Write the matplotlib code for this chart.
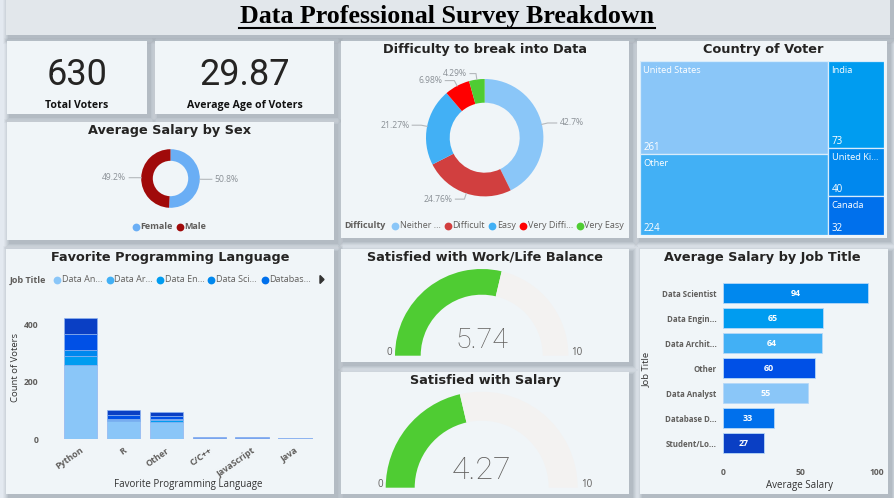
import matplotlib
matplotlib.use("Agg")
import matplotlib.pyplot as plt
from matplotlib.patches import Rectangle
import numpy as np

W, H = 894, 498
PAGE = "#e3e9f0"; CARD = "#f0f5f8"; SHADOW = "#5c6670"; INK = "#252423"; GREY = "#605e5c"; LBL = "#8a9096"
SANS = ["Open Sans", "DejaVu Sans"]; HEAD = "DejaVu Sans"

title = "Data Professional Survey Breakdown"
total_voters = "630"; avg_age = "29.87"
sex_labels = ["Female", "Male"]; sex_values = [50.8, 49.2]; sex_colors = ["#6aaef5", "#a00a0a"]
diff_labels = ["Neither ...", "Difficult", "Easy", "Very Diffi...", "Very Easy"]
diff_values = [42.7, 24.76, 21.27, 6.98, 4.29]
diff_colors = ["#8ac6f8", "#d13f3f", "#42b0f5", "#ff0000", "#4fcc33"]
country_labels = ["United States", "Other", "India", "United Ki...", "Canada"]
country_values = [261, 224, 73, 40, 32]
country_colors = ["#8ac6f8", "#42b0f5", "#009cf0", "#0088ee", "#0070ec"]
languages = ["Python", "R", "Other", "C/C++", "JavaScript", "Java"]
job_legend = ["Data An...", "Data Ar...", "Data En...", "Data Sci...", "Databas..."]
job_legend_colors = ["#8ac6f8", "#42b0f5", "#009cf0", "#0088ee", "#0070ec"]
stack_colors = ["#8ac6f8", "#009cf0", "#0088ee", "#0050e6", "#0a3fc4"]
stack_data_analyst = [257, 62, 60, 3, 3, 4]
stack_engineer = [30, 3, 5, 1, 1, 0]
stack_scientist = [21, 3, 5, 1, 1, 0]
stack_other = [56, 14, 11, 2, 2, 0]
stack_student = [56, 19, 14, 1, 1, 0]
work_value = 5.74; salary_value = 4.27; gauge_max = 10
job_titles = ["Data Scientist", "Data Engin...", "Data Archit...", "Other", "Data Analyst", "Database D...", "Student/Lo..."]
job_salary = [94, 65, 64, 60, 55, 33, 27]
job_colors = ["#0088ee", "#009cf0", "#42b0f5", "#0050e6", "#8ac6f8", "#0070ec", "#0a3fc4"]

fig = plt.figure(figsize=(W/100, H/100), dpi=100, facecolor=PAGE)

def axpx(x0, y0, x1, y1, z=2):
    return fig.add_axes([x0/W, 1-y1/H, (x1-x0)/W, (y1-y0)/H], zorder=z)

bg = axpx(0, 0, W, H, 0); bg.set_xlim(0, W); bg.set_ylim(H, 0); bg.axis("off")
top = axpx(0, 0, W, H, 10); top.set_xlim(0, W); top.set_ylim(H, 0); top.axis("off"); top.patch.set_alpha(0)

def card(x0, y0, x1, y1):
    for d, a in [(6, .04), (5, .05), (4, .06), (3, .07), (2, .08), (1, .09)]:
        bg.add_patch(Rectangle((x0-d+3, y0-d+3), x1-x0+2*d, y1-y0+2*d, fc=SHADOW, ec="none", alpha=a))

panels = [(7,41,147,114),(155,41,334,114),(7,122,334,240),(341,41,629,238),(637,41,887,238),
          (6,249,334,494),(341,249,629,362),(341,372,629,494),(640,249,888,494)]
card(6, -5, 890, 35)
for p in panels: card(*p)
bg.add_patch(Rectangle((6, -5), 884, 40, fc="#e2e7eb", ec="none"))
for (x0, y0, x1, y1) in panels:
    bg.add_patch(Rectangle((x0, y0), x1-x0, y1-y0, fc=CARD, ec="none"))

top.text(447, 16, title, ha="center", va="center", family="Liberation Serif", weight="bold", size=18.7, color="black")
top.plot([239, 655], [27.5, 27.5], color="black", lw=1.5)

def head(cx, y, s):
    top.text(cx, y, s, ha="center", va="center", family=HEAD, weight="bold", size=9.25, color=INK)
head(170, 130, "Average Salary by Sex"); head(485, 49, "Difficulty to break into Data"); head(763, 49, "Country of Voter")
head(170, 257, "Favorite Programming Language"); head(485, 257, "Satisfied with Work/Life Balance")
head(485, 380, "Satisfied with Salary"); head(762, 257, "Average Salary by Job Title")

top.text(77, 75, total_voters, ha="center", va="center", family="Roboto", size=26, color=INK)
top.text(244.5, 75, avg_age, ha="center", va="center", family="Roboto", size=26, color=INK)
top.text(77, 105, "Total Voters", ha="center", va="center", family=SANS, size=7.6, weight="bold", color="#111111")
top.text(244.5, 105, "Average Age of Voters", ha="center", va="center", family=SANS, size=7.6, weight="bold", color="#111111")

def donut(cx, cy, R, r, values, colors, radial, hlens):
    a = axpx(cx-R, cy-R, cx+R, cy+R)
    a.pie(values, colors=colors, startangle=90, counterclock=False, radius=1,
          wedgeprops=dict(width=1-r/R, edgecolor="none"))
    a.set_xlim(-1, 1); a.set_ylim(-1, 1)
    cum = 0; tot = sum(values)
    for v, hl in zip(values, hlens):
        th = np.radians((cum + v/2)/tot*360); cum += v
        sx, cy_ = np.sin(th), np.cos(th); s = 1 if sx >= 0 else -1
        p0 = (cx+R*sx, cy-R*cy_); p1 = (cx+(R+radial)*sx, cy-(R+radial)*cy_); p2 = (p1[0]+s*hl, p1[1])
        top.plot([p0[0], p1[0], p2[0]], [p0[1], p1[1], p2[1]], color="#b4b8bc", lw=.8)
        top.text(p2[0]+s*3, p2[1], f"{v:g}%", ha="left" if s > 0 else "right", va="center", family=SANS, size=6.2, color=LBL)

donut(170.5, 178.5, 29.3, 17.7, sex_values, sex_colors, 3, [9, 9])
donut(484.7, 137.7, 58.7, 35, diff_values, diff_colors, 6, [9, 9, 9, 9, 6])

def legend(items, colors, xs, y, fs=6.5):
    for lab, c, x in zip(items, colors, xs):
        top.plot(x, y, "o", ms=5.6, color=c, mec="none")
        top.text(x+5, y, lab, ha="left", va="center", family=SANS, size=fs, color=GREY)

legend(sex_labels, sex_colors, [135.5, 179.5], 226.5)
for t in top.texts[-2:]: t.set_weight("bold")
top.text(344.5, 225.5, "Difficulty", ha="left", va="center", family=SANS, size=6.5, weight="bold", color=GREY)
legend(diff_labels, diff_colors, [395, 447.5, 492, 523, 579.5], 225.5)
top.text(9.5, 280, "Job Title", ha="left", va="center", family=SANS, size=6.5, weight="bold", color=GREY)
legend(job_legend, job_legend_colors, [56.5, 109.5, 160, 211, 264.5], 279.5)
top.fill([320, 320, 324], [275.5, 283.5, 279.5], color="#333333")

# treemap
tx0, tx1, ty0, ty1 = 639.7, 884.3, 60.7, 234.7
tm = axpx(tx0, ty0, tx1, ty1); tm.axis("off"); tm.set_xlim(0, 1); tm.set_ylim(1, 0)
total = sum(country_values)
left = sum(country_values[:2]); lw_ = left/total
rects = []
y = 0
for v in country_values[:2]:
    h = v/left; rects.append((0, y, lw_, h)); y += h
y = 0
for v in country_values[2:]:
    h = v/(total-left); rects.append((lw_, y, 1-lw_, h)); y += h
for (x, y, w, h), c, lab, v in zip(rects, country_colors, country_labels, country_values):
    tm.add_patch(Rectangle((x, y), w, h, fc=c, ec="#d8ecfb", lw=.9))
    px = tx0 + x*(tx1-tx0) + 3.5; pt = ty0 + y*(ty1-ty0); pb = pt + h*(ty1-ty0)
    top.text(px, pt+9.5, lab, ha="left", va="center", family=SANS, size=6.7, color="white")
    top.text(px, pb-6.5, str(v), ha="left", va="center", family=SANS, size=7, color="white")

# stacked bars
bx = axpx(55, 300, 318, 439)
pos = np.arange(len(languages))
bottom = np.zeros(len(languages))
for vals, c in zip([stack_data_analyst, stack_engineer, stack_scientist, stack_other, stack_student], stack_colors):
    bx.bar(pos, vals, bottom=bottom, width=.78, color=c, edgecolor="#8fb4f0", linewidth=.5)
    bottom += np.array(vals)
bx.set_xlim(-0.59, 5.53); bx.set_ylim(0, 139/115*400)
bx.set_facecolor("none")
for s in bx.spines.values(): s.set_visible(False)
bx.set_yticks([0, 200, 400])
bx.tick_params(length=0)
bx.set_yticklabels(["0", "200", "400"], family=SANS, size=6.2, weight="bold", color=GREY)
bx.tick_params(axis="y", pad=12)
bx.set_xticks(pos)
bx.set_xticklabels(languages, rotation=35, ha="right", rotation_mode="anchor", family=SANS, size=6.4, weight="bold", color=GREY)
bx.tick_params(axis="x", pad=5)
top.text(188, 484.5, "Favorite Programming Language", ha="center", va="center", family=SANS, size=7, color="#333333")
top.text(16, 367, "Count of Voters", ha="center", va="center", rotation=90, family=SANS, size=6.8, color="#333333")

# gauges
def gauge(cx, by, R, r, value, vmax, txt_y, lab_y, fs):
    a = axpx(cx-R, by-R, cx+R, by+R)
    a.pie([value, vmax-value, vmax], colors=["#4fcc33", "#f3f2f1", "none"], startangle=180, counterclock=False,
          radius=1, wedgeprops=dict(width=1-r/R, edgecolor="none"))
    a.set_xlim(-1, 1); a.set_ylim(-1, 1)
    top.text(cx, txt_y, f"{value:g}", ha="center", va="center", family="Roboto", weight="light", size=fs, color=GREY)
    top.text(cx-R-3, lab_y, "0", ha="right", va="center", family=SANS, size=7, color=GREY)
    top.text(cx+R+3, lab_y, str(vmax), ha="left", va="center", family=SANS, size=7, color=GREY)

gauge(481.7, 355.7, 86.7, 61, work_value, gauge_max, 340, 352, 20.5)
gauge(481.7, 487.7, 96, 67, salary_value, gauge_max, 470.5, 484, 23)

# job bars
jx = axpx(722.7, 280.5, 877.3, 455.5)
yp = np.arange(len(job_titles))
jx.barh(yp, job_salary, height=.77, color=job_colors, edgecolor="#b6d8f8", linewidth=.6)
jx.set_xlim(0, 100); jx.set_ylim(6.5, -0.5)
jx.set_facecolor("none")
for s in jx.spines.values(): s.set_visible(False)
jx.set_yticks(yp); jx.set_yticklabels(job_titles, family=SANS, size=5.7, weight="bold", color=GREY)
jx.tick_params(length=0); jx.tick_params(axis="y", pad=4.5)
jx.set_xticks([0, 50, 100]); jx.set_xticklabels(["0", "50", "100"], family=SANS, size=6.2, weight="bold", color=GREY)
jx.tick_params(axis="x", pad=9)
for i, v in enumerate(job_salary):
    jx.text(v/2, i, str(v), ha="center", va="center", family=SANS, size=6.4, weight="bold", color="white")
top.text(799.5, 485, "Average Salary", ha="center", va="center", family=SANS, size=7, color="#333333")
top.text(646, 369, "Job Title", ha="center", va="center", rotation=90, family=SANS, size=6.8, color="#333333")

fig.savefig("out.png", dpi=100, facecolor=PAGE)
